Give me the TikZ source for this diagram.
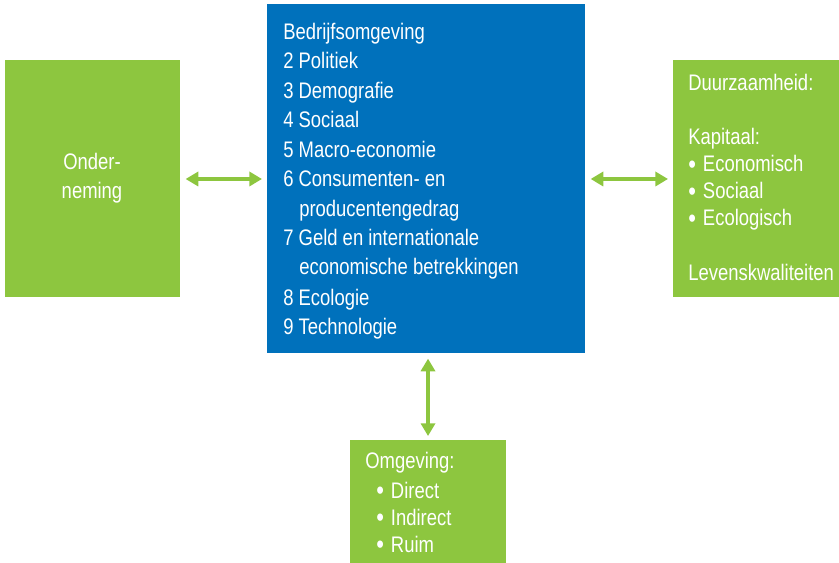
\documentclass[tikz,border=0pt]{standalone}
\usepackage{fontspec}
\setmainfont{Liberation Sans}[FakeStretch=0.82]
\usepackage{tikz}
\usetikzlibrary{arrows.meta}
\usetikzlibrary{positioning}

\definecolor{boxgreen}{RGB}{141,198,63}
\definecolor{boxblue}{RGB}{0,113,188}

\newcommand{\blt}{\raisebox{-1pt}{\fontsize{19}{19}\selectfont•}\hspace{5pt}}

\tikzset{
  greenbox/.style={fill=boxgreen,draw=none,inner sep=0pt},
  bluebox/.style={fill=boxblue,draw=none,inner sep=0pt},
  txt/.style={text=white,inner sep=0pt,anchor=base west,font=\fontsize{16}{19}\selectfont},
  twoway/.style={boxgreen,line width=2.2pt,{Triangle[length=9pt,width=10pt]}-{Triangle[length=9pt,width=10pt]}}
}

\begin{document}
\begin{tikzpicture}[x=0.025cm,y=-0.025cm]
  \useasboundingbox (0,0) rectangle (839,563);

  % boxes
  \node (ond) at (5,60)[greenbox,anchor=north west,minimum width=4.375cm,minimum height=5.925cm]{};
  \node (bedr) at (267,4)[bluebox,anchor=north west,minimum width=7.95cm,minimum height=8.725cm]{};
  \node (duur) at (673,60)[greenbox,anchor=north west,minimum width=4.15cm,minimum height=5.925cm]{};
  \node (omg) at (350,440)[greenbox,anchor=north west,minimum width=3.9cm,minimum height=3.075cm]{};

  % onderneming
  \node (o1) at (92,170)[txt,anchor=base]{Onder-};
  \node (o2) at (92,199)[txt,anchor=base]{neming};

  % bedrijfsomgeving
  \node (b0) at (283,40)[txt]{Bedrijfsomgeving};
  \node (b1) at (283,69)[txt]{2 Politiek};
  \node (b2) at (283,99)[txt]{3 Demografie};
  \node (b3) at (283,128)[txt]{4 Sociaal};
  \node (b4) at (283,158)[txt]{5 Macro-economie};
  \node (b5) at (283,187)[txt]{6 Consumenten- en};
  \node (b5a) at (299,217)[txt]{producentengedrag};
  \node (b6) at (283,246)[txt]{7 Geld en internationale};
  \node (b6a) at (299,275)[txt]{economische betrekkingen};
  \node (b7) at (283,305)[txt]{8 Ecologie};
  \node (b8) at (283,334)[txt]{9 Technologie};

  % duurzaamheid
  \node (d0) at (688,91)[txt]{Duurzaamheid:};
  \node (d1) at (688,145)[txt]{Kapitaal:};
  \node (d2) at (688,172)[txt]{\blt Economisch};
  \node (d3) at (688,199)[txt]{\blt Sociaal};
  \node (d4) at (688,226)[txt]{\blt Ecologisch};
  \node (d5) at (688,280)[txt]{Levenskwaliteiten};

  % omgeving
  \node (g0) at (365,468)[txt]{Omgeving:};
  \node (g1) at (376,498)[txt]{\blt Direct};
  \node (g2) at (376,525)[txt]{\blt Indirect};
  \node (g3) at (376,552)[txt]{\blt Ruim};

  \draw[twoway]([xshift=0.125cm]ond.east |- 0,179)--([xshift=-0.125cm]bedr.west |- 0,179);
  \draw[twoway]([xshift=0.125cm]bedr.east |- 0,179)--([xshift=-0.125cm]duur.west |- 0,179);
  \draw[twoway]([yshift=-0.125cm]bedr.south -| 428,0)--([yshift=0.1cm]omg.north -| 428,0);
\end{tikzpicture}
\end{document}
